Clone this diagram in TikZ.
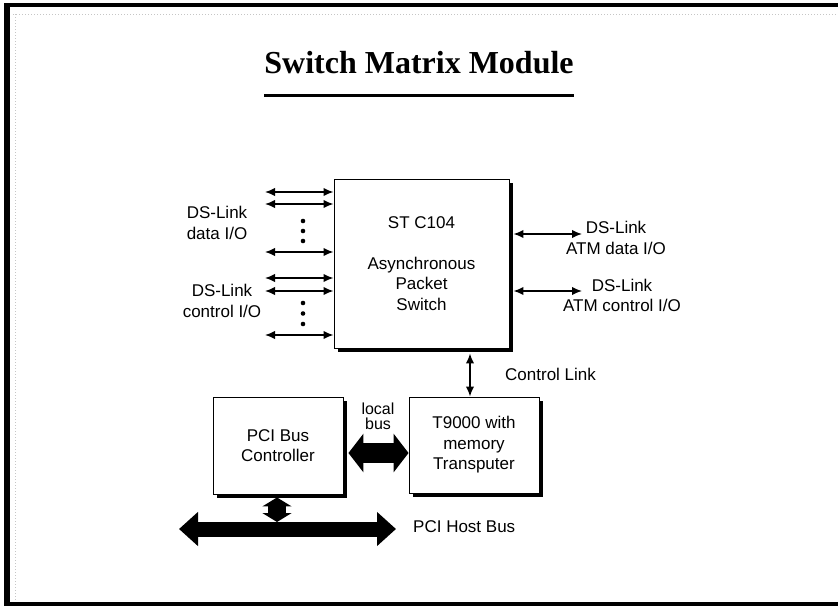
\documentclass[tikz,border=0pt]{standalone}
\usepackage{fontspec}
\setmainfont{Liberation Sans}
\newfontfamily\titlefont{Liberation Serif}
\usetikzlibrary{arrows.meta,shadows,calc}
\begin{document}
\begin{tikzpicture}[x=1pt,y=-1pt,
  txt/.style={font=\fontsize{17}{20.5}\selectfont, align=center, inner sep=0pt},
  blk/.style={draw=black, line width=0.9pt, fill=white,
    drop shadow={shadow xshift=4pt, shadow yshift=-4pt, fill=black, opacity=1}, txt},
  dbl/.style={line width=1.6pt, {Latex[length=10pt,width=8.5pt]}-{Latex[length=10pt,width=8.5pt]}},
  fatlocal/.style={line width=20pt, {Triangle[length=15pt,width=38pt]}-{Triangle[length=15pt,width=38pt]}},
  fathost/.style={line width=15pt, {Triangle[length=19pt,width=33pt]}-{Triangle[length=19pt,width=33pt]}},
  fatsmall/.style={line width=18pt, {Triangle[length=9pt,width=29pt]}-{Triangle[length=9pt,width=29pt]}},
  dotc/.style={fill=black}]
\useasboundingbox (0,0) rectangle (838,606);
% frame
\fill (4,3) rectangle (838,7);
\fill (4,3) rectangle (10,606);
\fill (4,602) rectangle (838,606);
\draw[gray!45, dotted, line width=1pt] (13,14) -- (838,14);
\draw[gray!45, dotted, line width=1pt] (15,14) -- (15,600);
% title
\node[font=\titlefont\bfseries\fontsize{32}{36}\selectfont, anchor=base, inner sep=0pt] (title) at (419,73) {Switch Matrix Module};
\draw[line width=3pt] ([yshift=-22pt]title.base west) -- ([yshift=-22pt]title.base east);
% blocks
\node[blk, minimum width=175pt, minimum height=169pt] (sw) at (421.5,263.5) {ST C104\\[20.5pt]Asynchronous\\Packet\\Switch};
\node[blk, minimum width=130pt, minimum height=97pt] (pci) at (278,445.5) {PCI Bus\\Controller};
\node[blk, minimum width=130pt, minimum height=96pt] (t9) at (474,445) {T9000 with\\memory\\Transputer};
% left links
\foreach \n/\yy in {1/192,2/204,3/252,4/278,5/291,6/335} {
  \coordinate (l\n) at (265,\yy);
  \draw[dbl] (l\n) -- (l\n -| sw.west);
}
\foreach \yy in {221,231,241,303,313.5,324} \fill[dotc] (303,\yy) circle (2.3pt);
\node[txt] (ldata) at (217,223) {DS-Link\\data I/O};
\node[txt] (lctrl) at (222,301) {DS-Link\\control I/O};
% right links
\coordinate (r1) at (582,234);
\coordinate (r2) at (582,291);
\draw[dbl] ([xshift=4pt]sw.east |- r1) -- (r1);
\draw[dbl] ([xshift=4pt]sw.east |- r2) -- (r2);
\node[txt] (rdata) at (616,238) {DS-Link\\ATM data I/O};
\node[txt] (rctrl) at (622,295.5) {DS-Link\\ATM control I/O};
% control link
\draw[dbl] ([xshift=-4pt,yshift=-5pt]t9.north |- sw.south) -- ([xshift=-4pt]t9.north);
\node[txt, anchor=west] (cll) at (505,374) {Control Link};
% local bus
\coordinate (lbc) at (378,453);
\draw[fatlocal] ([xshift=5pt]pci.east |- lbc) -- (t9.west |- lbc);
\node[txt, font=\fontsize{16}{15}\selectfont] (lb) at (378,416) {local\\bus};
% host bus
\coordinate (hbL) at (179,529);
\coordinate (hbR) at (396,529);
\draw[fathost] (hbL) -- (hbR);
\draw[fatsmall] ([xshift=-1pt,yshift=-3pt]pci.south) -- ([xshift=-1pt,yshift=7pt]pci.south |- hbL);
\node[txt, anchor=west] (hbl) at (413,527) {PCI Host Bus};
\end{tikzpicture}
\end{document}
